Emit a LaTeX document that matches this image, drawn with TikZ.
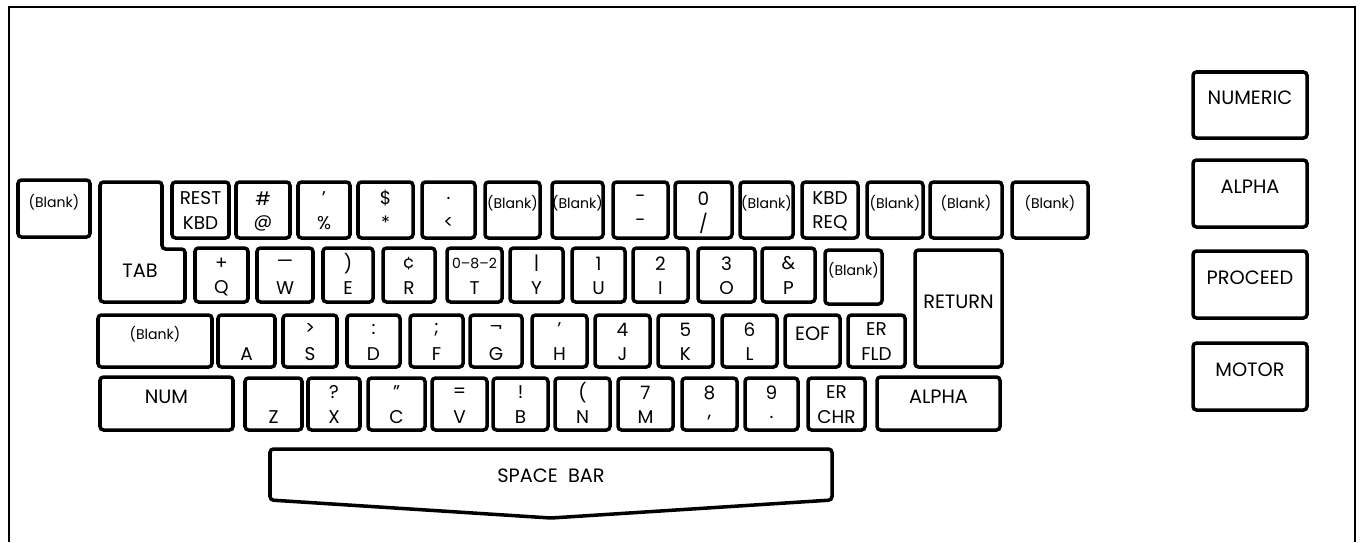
\documentclass[tikz,border=0pt]{standalone}
\usepackage{fontspec}
\setmainfont{Poppins}
\usetikzlibrary{fit,calc}

\begin{document}
\begin{tikzpicture}[x=0.02cm, y=-0.02cm,
  key/.style={draw, line width=2pt, rounded corners=2pt, inner sep=0pt, align=center, font=\fontsize{11}{12.5}\selectfont, text height=7.7pt, text depth=0pt},
  keylab/.style={font=\fontsize{10.5}{12}\selectfont, anchor=base, inner sep=0pt},
  upper/.style={label={[keylab, yshift=6.6pt]center:#1}},
  lower/.style={label={[keylab, yshift=-7.5pt]center:#1}},
  blank/.style={key, font=\fontsize{8}{9}\selectfont, text height=5.6pt},
  plain/.style={font=\fontsize{11}{12}\selectfont, text height=7.7pt, text depth=0pt},
  outline/.style={line width=2pt, rounded corners=2pt},
  frame/.style={line width=1.2pt}
]
  \useasboundingbox (0,0) rectangle (1364,542);
  \draw[frame] (9,542) -- (9,7) -- (1355,7) -- (1355,542);

  % top row
  \node[blank, fit={(18,180) (90,237)}] (b1) {(Blank)};
  \draw[outline] (100,182) -- (162,182) -- (162,249) -- (185,249) -- (185,302) -- (100,302) -- cycle;
  \node[plain] (tab) at (140,271) {TAB};
  \node[key, fit={(172,182) (229,238)}, upper={REST}, lower={KBD}] (restkbd) {};
  \node[key, fit={(236,182) (290,238)}, upper={\#}, lower={@}] (at) {};
  \node[key, fit={(298,182) (350,238)}, upper={'}, lower={\%}] (pct) {};
  \node[key, fit={(358,182) (413,238)}, upper={\$}, lower={*}] (ast) {};
  \node[key, fit={(422,182) (475,238)}, upper={.}, lower={<}] (lt) {};
  \node[blank, fit={(485,182) (540,238)}] (b2) {(Blank)};
  \node[blank, fit={(552,182) (603,238)}] (b3) {(Blank)};
  \node[key, fit={(613,182) (668,238)}, upper={-}, lower={-}] (dash) {};
  \node[key, fit={(675,182) (732,238)}, upper={0}, lower={/}] (slash) {};
  \node[blank, fit={(740,182) (793,238)}] (b4) {(Blank)};
  \node[key, fit={(802,182) (858,238)}, upper={KBD}, lower={REQ}] (kbdreq) {};
  \node[blank, fit={(867,182) (923,238)}] (b5) {(Blank)};
  \node[blank, fit={(930,182) (1002,238)}] (b6) {(Blank)};
  \node[blank, fit={(1012,182) (1088,238)}] (b7) {(Blank)};

  % second row
  \node[key, fit={(195,248) (248,302)}, upper={+}, lower={Q}] (q) {};
  \node[key, fit={(257,248) (313,302)}, upper={—}, lower={W}] (w) {};
  \node[key, fit={(323,248) (373,302)}, upper={)}, lower={E}] (e) {};
  \node[key, fit={(383,248) (435,302)}, upper={¢}, lower={R}] (r) {};
  \node[key, fit={(447,248) (502,302)}, upper={{\fontsize{8}{9}\selectfont 0–8–2}}, lower={T}] (t) {};
  \node[key, fit={(510,248) (563,302)}, upper={|}, lower={Y}] (y) {};
  \node[key, fit={(572,248) (625,302)}, upper={1}, lower={U}] (u) {};
  \node[key, fit={(633,248) (688,302)}, upper={2}, lower={I}] (i) {};
  \node[key, fit={(698,248) (755,302)}, upper={3}, lower={O}] (o) {};
  \node[key, fit={(762,248) (815,302)}, upper={\&}, lower={P}] (p) {};
  \node[blank, fit={(825,250) (882,304)}] (b8) {(Blank)};
  \node[key, fit={(915,250) (1002,367)}] (return) {RETURN};

  % home row
  \node[blank, fit={(98,315) (212,367)}] (b9) {(Blank)};
  \node[key, fit={(218,315) (275,367)}, lower={A}] (a) {};
  \node[key, fit={(283,315) (337,367)}, upper={>}, lower={S}] (s) {};
  \node[key, fit={(347,315) (400,367)}, upper={{:}}, lower={D}] (d) {};
  \node[key, fit={(410,315) (463,367)}, upper={;}, lower={F}] (f) {};
  \node[key, fit={(470,315) (522,367)}, upper={¬}, lower={G}] (g) {};
  \node[key, fit={(532,315) (587,367)}, upper={'}, lower={H}] (h) {};
  \node[key, fit={(595,315) (650,367)}, upper={4}, lower={J}] (j) {};
  \node[key, fit={(658,315) (713,367)}, upper={5}, lower={K}] (k) {};
  \node[key, fit={(722,315) (777,367)}, upper={6}, lower={L}] (l) {};
  \node[key, fit={(785,315) (840,367)}] (eof) {EOF};
  \node[key, fit={(848,315) (905,367)}, upper={ER}, lower={FLD}] (erfld) {};

  % bottom row
  \node[key, fit={(100,377) (233,430)}] (num) {NUM};
  \node[key, fit={(245,378) (302,430)}, lower={Z}] (z) {};
  \node[key, fit={(308,378) (360,430)}, upper={?}, lower={X}] (x) {};
  \node[key, fit={(368,378) (425,430)}, upper={"}, lower={C}] (c) {};
  \node[key, fit={(432,378) (487,430)}, upper={{=}}, lower={V}] (v) {};
  \node[key, fit={(493,378) (548,430)}, upper={!}, lower={B}] (bkey) {};
  \node[key, fit={(555,378) (610,430)}, upper={(}, lower={N}] (n) {};
  \node[key, fit={(618,378) (673,430)}, upper={7}, lower={M}] (m) {};
  \node[key, fit={(682,378) (737,430)}, upper={8}, lower={{,}}] (comma) {};
  \node[key, fit={(745,378) (798,430)}, upper={9}, lower={.}] (period) {};
  \node[key, fit={(808,378) (865,430)}, upper={ER}, lower={CHR}] (erchr) {};
  \node[key, fit={(877,377) (1000,430)}] (alpha) {ALPHA};

  % space bar
  \draw[outline] (270,449) -- (832,449) -- (832,500) -- (551,518) -- (270,500) -- cycle;
  \node[plain] (space) at (551,476) {SPACE\ \ BAR};

  % mode keys
  \node[key, fit={(1193,72) (1307,138)}] (numeric) {NUMERIC};
  \node[key, fit={(1193,160) (1307,227)}] (alphamode) {ALPHA};
  \node[key, fit={(1193,251) (1307,318)}] (proceed) {PROCEED};
  \node[key, fit={(1193,343) (1307,410)}] (motor) {MOTOR};
\end{tikzpicture}
\end{document}
